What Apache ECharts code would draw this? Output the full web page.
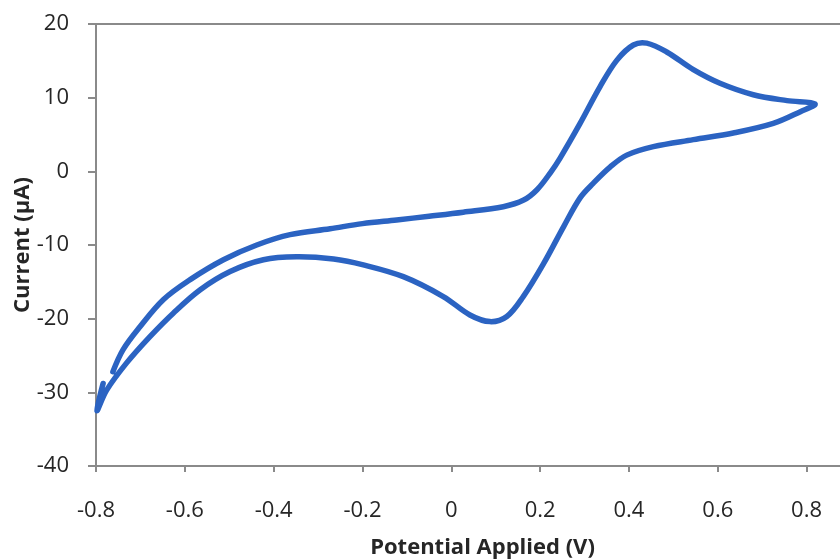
<!DOCTYPE html>
<html>
<head>
<meta charset="utf-8">
<script src="https://cdn.jsdelivr.net/npm/echarts@6/dist/echarts.min.js"></script>
<style>
  html, body { margin: 0; padding: 0; background: #ffffff; }
  #chart { width: 840px; height: 560px; }
</style>
</head>
<body>
<div id="chart"></div>
<script>
// Cyclic voltammogram: potential (V) vs current (µA), one full scan in recording order
const potential = [
  -0.762, -0.739, -0.701, -0.648, -0.588, -0.513, -0.438, -0.363, -0.273, -0.200,
  -0.123, -0.050, 0.027, 0.117, 0.163, 0.193, 0.223, 0.245, 0.290, 0.335,
  0.373, 0.410, 0.440, 0.485, 0.545, 0.605, 0.680, 0.756, 0.819,
  0.786, 0.725, 0.635, 0.545, 0.455, 0.395, 0.358, 0.320, 0.290, 0.253,
  0.208, 0.162, 0.125, 0.087, 0.042, -0.018, -0.108, -0.198, -0.265, -0.348,
  -0.423, -0.498, -0.566, -0.626, -0.678, -0.731, -0.776, -0.798, -0.784
];
const current = [
  -27.2, -24.2, -21.1, -17.4, -14.7, -12.0, -10.0, -8.6, -7.8, -7.1,
  -6.6, -6.1, -5.55, -4.8, -3.9, -2.5, -0.2, 1.8, 6.5, 11.5,
  15.1, 17.15, 17.4, 16.2, 13.8, 11.95, 10.4, 9.6, 9.15,
  8.1, 6.5, 5.2, 4.3, 3.35, 2.2, 0.6, -1.6, -3.6, -7.5,
  -12.5, -17.0, -19.7, -20.4, -19.5, -17.0, -14.3, -12.7, -11.9, -11.6,
  -12.0, -13.6, -16.1, -19.25, -22.4, -26.0, -29.7, -32.5, -28.8
];

const xTitle = 'Potential Applied (V)';
const yTitle = 'Current (µA)';

const scan = potential.map((v, i) => [v, current[i]]);

const axisGrey = '#8a8a8a';
const textDark = '#262626';
const lineBlue = '#2b63c2';
const font = '"Open Sans", "Liberation Sans", sans-serif';

// The scan loops back on itself in x, so it is drawn as one smooth polyline
// through every recorded point, placed by the cartesian axes (api.coord).
function renderScan(params, api) {
  if (params.dataIndex !== 0) return null;
  const pts = scan.map(p => api.coord(p));
  return {
    type: 'polyline',
    shape: { points: pts, smooth: 0.35 },
    style: { stroke: lineBlue, lineWidth: 5.5, fill: null, lineCap: 'round', lineJoin: 'round' },
    silent: true
  };
}

const chart = echarts.init(document.getElementById('chart'), null, { renderer: 'canvas' });
chart.setOption({
  animation: false,
  backgroundColor: '#ffffff',
  grid: {
    left: 96, top: 24, width: 755, height: 442,
    outerBoundsMode: 'none',
    show: true, borderColor: axisGrey, borderWidth: 2, backgroundColor: 'transparent'
  },
  xAxis: {
    type: 'value', min: -0.8, max: 0.9, interval: 0.2,
    name: xTitle, nameLocation: 'middle', nameGap: 71, nameMoveOverlap: false,
    nameTextStyle: { fontFamily: font, fontWeight: 'bold', fontSize: 22, color: textDark, padding: [0, 0, 0, 18] },
    axisLine: { show: true, onZero: false, lineStyle: { color: axisGrey, width: 2 } },
    axisTick: { show: true, inside: false, length: 6, lineStyle: { color: axisGrey, width: 2 } },
    splitLine: { show: false },
    axisLabel: {
      fontFamily: font, fontSize: 22, color: textDark, margin: 34, showMaxLabel: false,
      formatter: v => (Math.abs(v) < 1e-9 ? '0' : String(Math.round(v * 10) / 10))
    }
  },
  yAxis: {
    type: 'value', min: -40, max: 20, interval: 10,
    name: yTitle, nameLocation: 'middle', nameGap: 62, nameRotate: 90, nameMoveOverlap: false,
    nameTextStyle: { fontFamily: font, fontWeight: 'bold', fontSize: 22, color: textDark },
    axisLine: { show: true, onZero: false, lineStyle: { color: axisGrey, width: 2 } },
    axisTick: { show: true, inside: false, length: 8, lineStyle: { color: axisGrey, width: 2 } },
    splitLine: { show: false },
    axisLabel: { fontFamily: font, fontSize: 22, color: textDark, margin: 27 }
  },
  series: [{
    type: 'custom',
    coordinateSystem: 'cartesian2d',
    data: scan,
    encode: { x: 0, y: 1 },
    renderItem: renderScan
  }]
});
</script>
</body>
</html>
